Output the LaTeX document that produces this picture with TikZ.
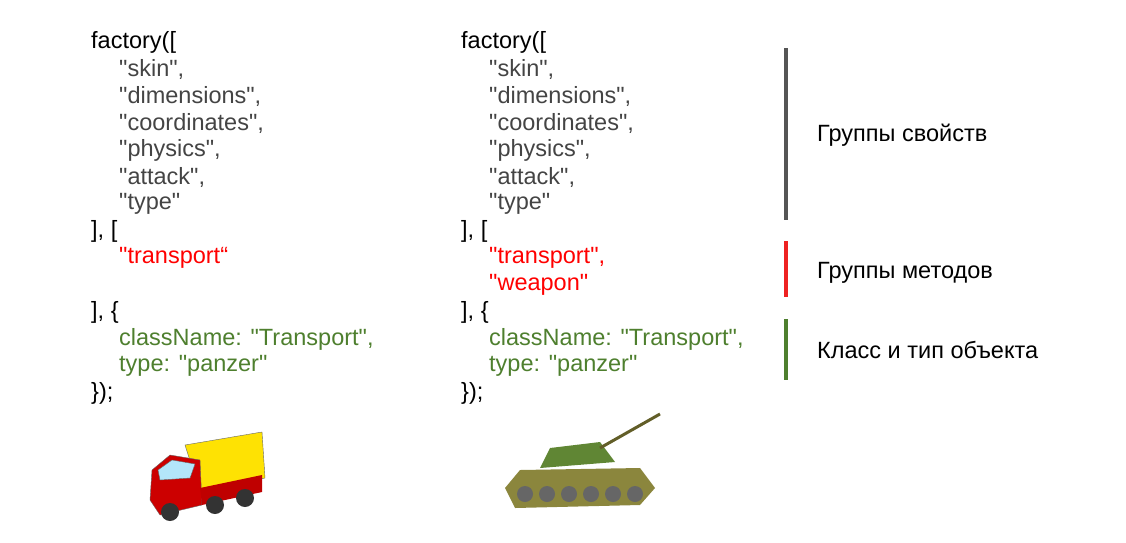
\documentclass[tikz,border=0pt]{standalone}
\usepackage{fontspec}
\setmainfont{Liberation Sans}
\newfontfamily\plainf{Liberation Sans}
\definecolor{cg}{HTML}{444444}
\definecolor{cr}{HTML}{FF0000}
\definecolor{cgr}{HTML}{4E7F2E}
\definecolor{barg}{HTML}{555555}
\definecolor{barr}{HTML}{EE2222}
\begin{document}
\begin{tikzpicture}[x=1pt,y=-1pt,
  t/.style={anchor=west,inner sep=0pt,font=\plainf\fontsize{23.5}{26}\selectfont},
  k/.style={t,black}, g/.style={t,text=cg}, r/.style={t,text=cr}, v/.style={t,text=cgr},
  bar/.style={line width=4pt}]
\useasboundingbox (0,0) rectangle (1126,542);
\foreach \X/\I/\P in {91/119/a,461/489/b}{
  \node[k] (\P1) at (\X,42) {factory([};
  \node[g] (\P2) at (\I,69) {"skin",};
  \node[g] (\P3) at (\I,96) {"dimensions",};
  \node[g] (\P4) at (\I,123) {"coordinates",};
  \node[g] (\P5) at (\I,150) {"physics",};
  \node[g] (\P6) at (\I,177) {"attack",};
  \node[g] (\P7) at (\I,204) {"type"};
  \node[k] (\P8) at (\X,231) {], [};
  \node[k] (\P11) at (\X,312) {], \{};
  \node[v] (\P12) at (\I,339) {className: "Transport",};
  \node[v] (\P13) at (\I,366) {type: "panzer"};
  \node[k] (\P14) at (\X,393) {\});};
}
\node[r] (a9) at (119,258) {"transport“};
\node[r] (b9) at (489,258) {"transport",};
\node[r] (b10) at (489,285) {"weapon"};
\draw[bar,barg] (786,48) -- (786,220);
\draw[bar,barr] (786,241) -- (786,297);
\draw[bar,cgr] (786,319) -- (786,380);
\node[k] (l1) at (817,135) {Группы свойств};
\node[k] (l2) at (817,273) {Группы методов};
\node[k] (l3) at (817,350) {Класс и тип объекта};
% truck
\fill[yellow!85!orange,draw=black!60] (185,445) -- (262,432) -- (265,478) -- (200,492) -- cycle;
\fill[red!80!black,draw=black!60] (152,470) -- (170,455) -- (200,460) -- (202,505) -- (160,515) -- (150,500) -- cycle;
\fill[cyan!30,draw=black!60] (158,470) -- (172,460) -- (195,464) -- (190,478) -- (160,480) -- cycle;
\fill[red!75!black] (200,488) -- (262,475) -- (262,492) -- (202,505) -- cycle;
\foreach \p in {(170,512),(215,505),(245,498)} \fill[black!80] \p circle (9);
% tank
\fill[olive!70!black!80] (505,488) -- (520,470) -- (640,468) -- (655,488) -- (640,505) -- (515,508) -- cycle;
\fill[olive!60!black!60!green] (540,468) -- (550,448) -- (600,442) -- (615,462) -- cycle;
\draw[line width=3pt,olive!60!black] (600,448) -- (660,414);
\foreach \i in {0,...,5} \fill[black!60] (525+\i*22,494) circle (8);
\end{tikzpicture}
\end{document}
